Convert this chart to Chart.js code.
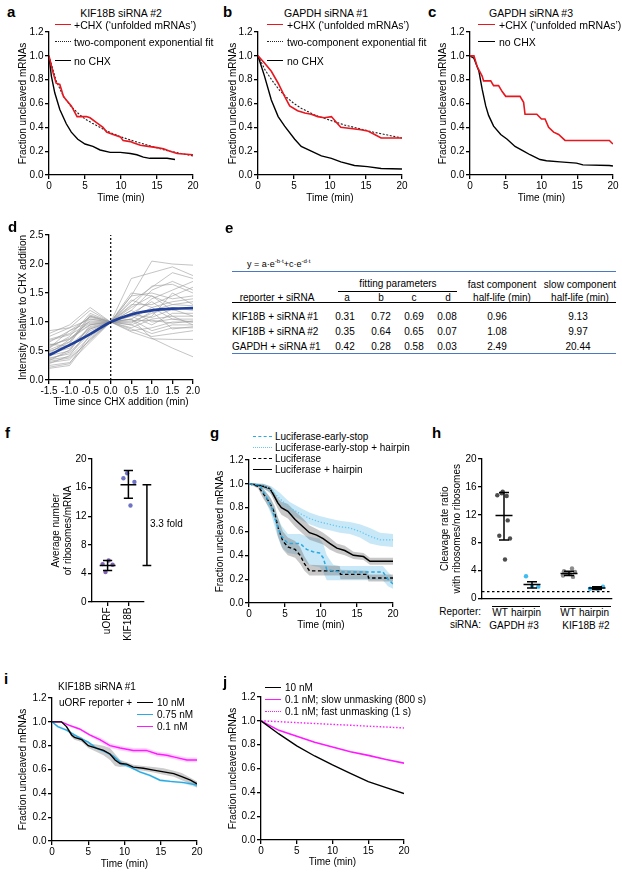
<!DOCTYPE html>
<html lang="en">
<head>
<meta charset="UTF-8" />
<title>Cleavage kinetics panels</title>
<script src="https://cdn.jsdelivr.net/npm/chart.js"></script>
<style>
  body { margin: 0; background: #fff; overflow: hidden; }
  #page { position: relative; width: 622px; height: 873px; font-family: "Liberation Sans", Arial, Helvetica, sans-serif; color: #000; }
  #page canvas { position: absolute; }
  .t { position: absolute; font-size: 10px; line-height: 12px; white-space: nowrap; }
  .t sup { font-size: 6px; vertical-align: 4px; line-height: 0; }
</style>
</head>
<body>
<div id="page"></div>
<script>
// ---- a: KIF18B siRNA #2
const aChxT = [0, 0.56, 1.0, 1.5, 2.0, 2.4, 3.1, 3.9, 5.2, 5.7, 6.6, 7.5, 8.0, 8.9, 9.9, 10.3, 11.3, 11.7, 12.7, 13.8, 15.0, 15.9, 16.8, 17.8, 20];
const aChxY = [1.0, 0.86, 0.77, 0.76, 0.66, 0.63, 0.58, 0.49, 0.49, 0.48, 0.44, 0.40, 0.36, 0.34, 0.32, 0.29, 0.28, 0.27, 0.25, 0.24, 0.23, 0.22, 0.20, 0.18, 0.17];
const aFitT = [0, 1, 2, 3, 4, 5, 6, 8, 10, 12, 14, 16, 18, 20];
const aFitY = [1.0, 0.79, 0.66, 0.58, 0.52, 0.47, 0.435, 0.37, 0.32, 0.28, 0.245, 0.21, 0.185, 0.16];
const aNoT = [0, 0.33, 0.8, 1.5, 2.4, 3.1, 4.0, 5.0, 6.1, 7.1, 8.5, 9.9, 11.3, 12.2, 13.1, 14.0, 16.4, 17.5];
const aNoY = [1.0, 0.83, 0.69, 0.55, 0.43, 0.36, 0.30, 0.26, 0.24, 0.21, 0.19, 0.19, 0.18, 0.17, 0.15, 0.14, 0.14, 0.13];

// ---- b: GAPDH siRNA #1
const bChxT = [0, 0.9, 1.85, 2.8, 3.7, 4.4, 5.5, 6.5, 7.4, 8.3, 9.2, 10.2, 10.9, 11.5, 12.9, 14.3, 15.2, 16.2, 17.1, 20];
const bChxY = [1.0, 0.94, 0.87, 0.77, 0.66, 0.58, 0.54, 0.52, 0.51, 0.49, 0.48, 0.49, 0.44, 0.40, 0.39, 0.38, 0.37, 0.34, 0.31, 0.31];
const bFitT = [0, 1, 2, 3, 4, 5, 6, 8, 10, 12, 14, 16, 18, 20];
const bFitY = [1.0, 0.88, 0.79, 0.71, 0.65, 0.60, 0.56, 0.50, 0.46, 0.42, 0.39, 0.36, 0.335, 0.31];
const bNoT = [0, 0.9, 1.85, 2.8, 3.7, 5.1, 6.0, 7.4, 8.8, 10.2, 11.5, 13.4, 15.2, 17.1, 20];
const bNoY = [1.0, 0.83, 0.63, 0.49, 0.41, 0.30, 0.24, 0.20, 0.16, 0.14, 0.11, 0.08, 0.07, 0.055, 0.05];

// ---- c: GAPDH siRNA #3
const cChxT = [0, 0.55, 1.0, 1.7, 1.9, 2.9, 3.3, 4.0, 4.5, 5.0, 7.0, 7.5, 7.7, 9.35, 10.0, 10.5, 11.0, 11.7, 12.4, 13.3, 19.5, 20];
const cChxY = [1.0, 1.0, 0.91, 0.83, 0.79, 0.79, 0.75, 0.75, 0.70, 0.66, 0.66, 0.61, 0.51, 0.51, 0.47, 0.47, 0.40, 0.36, 0.34, 0.29, 0.29, 0.26];
const cNoT = [0, 0.55, 1.25, 1.7, 2.2, 2.6, 3.3, 4.3, 5.2, 6.3, 7.5, 8.4, 9.8, 10.7, 12.6, 14.9, 15.8, 19.5, 20];
const cNoY = [1.0, 0.98, 0.87, 0.72, 0.58, 0.50, 0.41, 0.34, 0.30, 0.24, 0.20, 0.17, 0.13, 0.12, 0.11, 0.10, 0.085, 0.08, 0.075];

// ---- d: single-mRNA intensity traces around CHX addition
const dTimes = [-1.5, -1.0, -0.5, 0, 0.5, 1.0, 1.5, 2.0];
const dTraces = [
  [0.85, 0.90, 1.05, 1, 1.45, 2.05, 2.00, 1.98],
  [0.80, 0.95, 1.25, 1, 1.75, 1.85, 1.95, 1.80],
  [0.70, 0.80, 1.10, 1, 1.35, 1.60, 1.85, 1.75],
  [0.65, 0.85, 1.00, 1, 1.20, 1.55, 1.70, 1.55],
  [0.60, 0.70, 0.95, 1, 1.10, 1.40, 1.55, 1.70],
  [0.55, 0.75, 1.15, 1, 1.30, 1.30, 1.45, 1.60],
  [0.50, 0.60, 0.90, 1, 1.45, 1.50, 1.40, 1.45],
  [0.48, 0.65, 1.05, 1, 1.05, 1.25, 1.35, 1.40],
  [0.45, 0.55, 0.85, 1, 1.15, 1.20, 1.30, 1.35],
  [0.42, 0.50, 0.95, 1, 0.95, 1.10, 1.50, 1.30],
  [0.40, 0.62, 1.10, 1, 1.25, 1.45, 1.20, 1.25],
  [0.38, 0.45, 0.80, 1, 1.00, 1.15, 1.25, 1.20],
  [0.35, 0.40, 0.75, 1, 1.10, 0.95, 1.15, 1.15],
  [0.33, 0.52, 0.92, 1, 0.90, 1.05, 1.10, 1.10],
  [0.30, 0.35, 0.70, 1, 1.20, 1.00, 1.05, 1.05],
  [0.28, 0.42, 0.88, 1, 0.85, 0.90, 1.00, 1.00],
  [0.25, 0.30, 0.65, 1, 1.05, 0.85, 0.95, 0.95],
  [0.22, 0.28, 0.78, 1, 0.95, 0.80, 0.90, 0.90],
  [0.20, 0.25, 0.72, 1, 0.88, 0.75, 0.80, 0.85],
  [0.75, 0.90, 1.20, 1, 1.05, 0.72, 0.55, 0.40],
  [0.68, 0.78, 0.98, 1, 0.83, 0.71, 0.70, 0.70],
  [0.55, 0.85, 1.08, 1, 1.38, 1.25, 1.05, 1.00],
  [0.45, 0.70, 1.02, 1, 1.15, 1.35, 1.10, 0.95],
  [0.62, 0.58, 0.88, 1, 1.28, 1.62, 1.65, 1.50],
  [0.36, 0.48, 0.82, 1, 1.12, 1.08, 1.22, 1.10],
  [0.58, 0.72, 0.96, 1, 0.98, 1.18, 0.88, 0.92],
  [0.32, 0.38, 0.68, 1, 1.50, 1.45, 1.30, 1.28],
  [0.52, 0.66, 1.12, 1, 1.02, 1.03, 0.98, 1.02]
];
const dFitY = [0.43, 0.60, 0.79, 1.0, 1.13, 1.20, 1.23, 1.24];

// ---- e: fit table
const eRows = ['KIF18B + siRNA #1', 'KIF18B + siRNA #2', 'GAPDH + siRNA #1'];
const eA = ['0.31', '0.35', '0.42'];
const eB = ['0.72', '0.64', '0.28'];
const eC = ['0.69', '0.65', '0.58'];
const eD = ['0.08', '0.07', '0.03'];
const eFast = ['0.96', '1.08', '2.49'];
const eSlow = ['9.13', '9.97', '20.44'];

// ---- f: ribosomes per mRNA
const fCats = ['uORF', 'KIF18B'];
const fUorf = [5.8, 5.3, 5.2, 4.2];
const fKif = [18.0, 17.3, 16.8, 13.5];
const fMean = [5.1, 16.4];
const fLo = [4.4, 14.5];
const fHi = [5.8, 18.4];

// ---- g: luciferase reporters
const gHpT = [0, 1.25, 1.95, 2.9, 3.3, 4.0, 4.5, 5.4, 6.4, 7.5, 8.4, 9.4, 10.3, 11.2, 12.2, 13.3, 14.5, 15.9, 16.8, 20];
const gHpY = [1.0, 0.99, 0.98, 0.96, 0.92, 0.84, 0.80, 0.77, 0.70, 0.64, 0.59, 0.57, 0.54, 0.50, 0.46, 0.44, 0.40, 0.39, 0.35, 0.35];
const gHpHi = [1.0, 1.0, 1.0, 0.98, 0.95, 0.88, 0.85, 0.83, 0.77, 0.71, 0.65, 0.62, 0.59, 0.55, 0.50, 0.48, 0.43, 0.42, 0.38, 0.38];
const gHpLo = [1.0, 0.98, 0.96, 0.93, 0.88, 0.79, 0.74, 0.71, 0.64, 0.58, 0.53, 0.51, 0.49, 0.45, 0.42, 0.40, 0.37, 0.36, 0.32, 0.32];
const gLucT = [0, 1.25, 1.95, 2.9, 3.6, 4.0, 4.7, 5.4, 6.4, 7.1, 7.7, 8.4, 12.6, 12.7, 16.5, 16.6, 20];
const gLucY = [1.0, 0.98, 0.92, 0.84, 0.75, 0.64, 0.52, 0.47, 0.45, 0.40, 0.33, 0.27, 0.27, 0.24, 0.24, 0.21, 0.21];
const gLucHi = [1.0, 1.0, 0.96, 0.89, 0.81, 0.72, 0.60, 0.55, 0.52, 0.47, 0.39, 0.32, 0.31, 0.28, 0.27, 0.24, 0.24];
const gLucLo = [1.0, 0.96, 0.88, 0.79, 0.69, 0.56, 0.45, 0.40, 0.38, 0.33, 0.27, 0.23, 0.23, 0.20, 0.20, 0.18, 0.18];
const gEsT = [0, 1.5, 2.4, 3.1, 3.8, 4.5, 5.4, 7.1, 8.0, 8.9, 9.8, 10.3, 10.8, 11.7, 12.6, 18.6, 19.3, 20];
const gEsY = [1.0, 0.99, 0.89, 0.81, 0.67, 0.56, 0.50, 0.50, 0.45, 0.43, 0.42, 0.38, 0.28, 0.27, 0.26, 0.26, 0.20, 0.16];
const gEsHi = [1.0, 1.0, 0.93, 0.87, 0.75, 0.65, 0.58, 0.58, 0.56, 0.55, 0.54, 0.50, 0.40, 0.32, 0.31, 0.31, 0.26, 0.22];
const gEsLo = [1.0, 0.97, 0.84, 0.74, 0.59, 0.47, 0.42, 0.40, 0.33, 0.31, 0.30, 0.26, 0.19, 0.19, 0.19, 0.19, 0.14, 0.12];
const gEsHpT = [0, 1.95, 3.1, 4.2, 5.6, 7.1, 8.4, 9.8, 11.2, 12.6, 14, 15.4, 16.8, 18.2, 20];
const gEsHpY = [1.0, 0.99, 0.95, 0.88, 0.80, 0.75, 0.71, 0.68, 0.66, 0.64, 0.63, 0.60, 0.56, 0.53, 0.53];
const gEsHpHi = [1.0, 1.0, 0.98, 0.93, 0.85, 0.80, 0.76, 0.73, 0.71, 0.69, 0.68, 0.66, 0.63, 0.59, 0.58];
const gEsHpLo = [1.0, 0.97, 0.91, 0.83, 0.75, 0.70, 0.66, 0.63, 0.61, 0.59, 0.58, 0.55, 0.50, 0.48, 0.47];

// ---- h: cleavage rate ratios
const hReporters = ['WT', 'hairpin'];
const hGapdhWt = [14.8, 15.3, 15.1, 14.7, 11.2, 9.0, 8.6, 5.6];
const hGapdhHp = [3.2, 1.8, 1.7];
const hKifWt = [4.3, 3.9, 3.8, 3.6, 3.5, 3.3, 3.1];
const hKifHp = [1.4, 1.7, 1.4];
const hMean = [11.9, 2.0, 3.6, 1.5];
const hLo = [8.4, 1.5, 3.3, 1.3];
const hHi = [15.2, 2.4, 3.9, 1.7];

// ---- i: KIF18B siRNA #1, uORF reporter concentrations
const i10T = [0, 1.3, 2.0, 2.7, 3.1, 4.1, 5, 6.1, 7.1, 8, 8.7, 9.4, 10.3, 11.2, 12.6, 14, 15.4, 16.8, 17.9, 19.1, 20];
const i10Y = [1.0, 1.0, 0.96, 0.89, 0.87, 0.85, 0.80, 0.78, 0.76, 0.73, 0.68, 0.65, 0.645, 0.62, 0.61, 0.595, 0.58, 0.565, 0.54, 0.51, 0.48];
const i10Hi = [1.0, 1.0, 0.97, 0.91, 0.89, 0.87, 0.82, 0.81, 0.80, 0.78, 0.73, 0.68, 0.66, 0.64, 0.63, 0.62, 0.61, 0.59, 0.57, 0.53, 0.50];
const i10Lo = [1.0, 1.0, 0.95, 0.87, 0.85, 0.83, 0.78, 0.75, 0.72, 0.68, 0.63, 0.62, 0.63, 0.60, 0.59, 0.575, 0.555, 0.54, 0.51, 0.48, 0.45];
const i075T = [0, 0.8, 2, 3.1, 4, 5, 6.1, 7.3, 8.5, 9.6, 10.8, 12.1, 13.5, 14.9, 16.3, 18.2, 20];
const i075Y = [1.0, 0.96, 0.93, 0.89, 0.86, 0.83, 0.78, 0.75, 0.71, 0.65, 0.62, 0.58, 0.55, 0.51, 0.50, 0.49, 0.47];
const i075Hi = [1.0, 0.97, 0.94, 0.90, 0.87, 0.84, 0.79, 0.76, 0.72, 0.67, 0.63, 0.59, 0.56, 0.52, 0.51, 0.50, 0.49];
const i075Lo = [1.0, 0.95, 0.92, 0.88, 0.85, 0.82, 0.77, 0.74, 0.70, 0.63, 0.61, 0.57, 0.54, 0.50, 0.49, 0.48, 0.45];
const i01T = [0, 1.3, 2.4, 3.8, 5.2, 6.6, 8, 9.4, 11.2, 13, 14.5, 15.8, 17.2, 18.6, 20];
const i01Y = [1.0, 1.0, 0.97, 0.94, 0.89, 0.85, 0.80, 0.78, 0.76, 0.76, 0.73, 0.72, 0.70, 0.68, 0.68];
const i01Hi = [1.0, 1.0, 0.98, 0.95, 0.90, 0.87, 0.82, 0.80, 0.78, 0.78, 0.75, 0.74, 0.72, 0.70, 0.70];
const i01Lo = [1.0, 1.0, 0.96, 0.93, 0.88, 0.83, 0.78, 0.76, 0.74, 0.74, 0.71, 0.70, 0.68, 0.66, 0.66];

// ---- j: model curves
const jT = [0, 2.5, 5, 7.5, 10, 12.5, 15, 17.5, 20];
const j10 = [1.0, 0.89, 0.79, 0.705, 0.63, 0.56, 0.49, 0.44, 0.39];
const jSlow = [1.0, 0.92, 0.87, 0.82, 0.78, 0.74, 0.71, 0.675, 0.645];
const jFast = [1.0, 0.993, 0.985, 0.978, 0.97, 0.963, 0.955, 0.948, 0.94];

// ================= drawing =================
const page = document.getElementById('page');
const FONT = '"Liberation Sans", Arial, Helvetica, sans-serif';
Chart.defaults.font.family = FONT;
Chart.defaults.font.size = 10;
Chart.defaults.color = '#000';
Chart.defaults.animation = false;
Chart.defaults.plugins.legend.display = false;
Chart.defaults.plugins.tooltip.enabled = false;

const RED = '#e8161e', BLUE = '#2aaae2', LBLUE = '#66c9f0', MAG = '#ff19ff', NAVY = '#1f3f9b';
const fmt1 = v => v.toFixed(1);

const xy = (ts, ys) => ts.map((t, i) => ({x: t, y: ys[i]}));
function line(ts, ys, color, width, dash) {
  return {data: xy(ts, ys), borderColor: color, borderWidth: width, borderDash: dash || [], pointRadius: 0, fill: false, tension: 0};
}
function band(ts, hi, lo, color) {
  return [
    {data: xy(ts, hi), borderWidth: 0, borderColor: 'transparent', pointRadius: 0, fill: '+1', backgroundColor: color},
    {data: xy(ts, lo), borderWidth: 0, borderColor: 'transparent', pointRadius: 0, fill: false}
  ];
}
function dots(xs, ys, color) {
  return {data: xy(xs, ys), showLine: false, pointRadius: 2.2, pointBackgroundColor: color, pointBorderWidth: 0};
}
// mean line + error bar with caps, segments split by null points
function errBars(centers, mean, lo, hi, mw, cw) {
  const d = [];
  centers.forEach((c, k) => {
    d.push({x: c - mw, y: mean[k]}, {x: c + mw, y: mean[k]}, {x: c, y: null},
           {x: c, y: lo[k]}, {x: c, y: hi[k]}, {x: c, y: null},
           {x: c - cw, y: lo[k]}, {x: c + cw, y: lo[k]}, {x: c, y: null},
           {x: c - cw, y: hi[k]}, {x: c + cw, y: hi[k]}, {x: c, y: null});
  });
  return {data: d, borderColor: '#000', borderWidth: 1.5, pointRadius: 0, spanGaps: false};
}

function axis(o) {
  const show = o.ticks !== false;
  return {
    type: 'linear', min: o.min, max: o.max,
    border: {display: true, color: '#000', width: 1.3},
    grid: {display: show, drawOnChartArea: false, color: '#000', lineWidth: 1.3, tickLength: 4},
    ticks: {display: show, stepSize: o.step, padding: 1.5, autoSkip: false,
            maxRotation: o.rot || 0, minRotation: o.rot || 0, callback: o.fmt || (v => v)},
    title: {display: !!o.title, text: o.title || '', padding: 0, font: {size: 10}},
    afterBuildTicks: o.at ? (s => { s.ticks = o.at.map(v => ({value: v})); }) : undefined,
    afterFit: s => { if (s.isHorizontal()) s.height = o.size; else s.width = o.size; }
  };
}

// box: plot area in page pixels + fixed axis band sizes
function chart(box, datasets, x, y) {
  const c = document.createElement('canvas');
  const w = box.yw + box.r - box.l + box.pr, h = box.pt + box.b - box.t + box.xh;
  c.width = w; c.height = h;
  Object.assign(c.style, {left: (box.l - box.yw) + 'px', top: (box.t - box.pt) + 'px', width: w + 'px', height: h + 'px'});
  page.appendChild(c);
  x.size = box.xh; y.size = box.yw;
  return new Chart(c, {
    type: 'line',
    data: {datasets},
    options: {
      responsive: false, maintainAspectRatio: false, devicePixelRatio: 1,
      layout: {padding: {top: box.pt, right: box.pr, left: 0, bottom: 0}},
      scales: {x: axis(x), y: axis(y)}
    }
  });
}

function text(x, y, s, o = {}) {
  const el = document.createElement('div');
  el.className = 't';
  el.innerHTML = s;
  el.style.left = x + 'px';
  el.style.top = y + 'px';
  const ax = o.align === 'c' ? '-50%' : o.align === 'r' ? '-100%' : '0';
  el.style.transform = `translate(${ax}, -50%)`;
  if (o.size) el.style.fontSize = o.size + 'px';
  if (o.bold) el.style.fontWeight = 'bold';
  page.appendChild(el);
}
function key(x1, x2, y, color, style, w = 1.5) {
  const el = document.createElement('div');
  el.style.cssText = `position:absolute;left:${x1}px;top:${y - w / 2}px;width:${x2 - x1}px;height:0;border-top:${w}px ${style} ${color};`;
  page.appendChild(el);
}

const timeX = {min: 0, max: 20, step: 5, title: 'Time (min)'};
const fracY = {min: 0, max: 1.2, step: 0.2, fmt: fmt1, title: 'Fraction uncleaved mRNAs'};

// a
chart({l: 49, t: 32, r: 193, b: 175, yw: 32, xh: 29, pt: 8, pr: 8}, [
  line(aChxT, aChxY, RED, 1.6),
  line(aFitT, aFitY, '#222', 1.1, [2, 1.6]),
  line(aNoT, aNoY, '#000', 1.4)
], {...timeX}, {...fracY});
// b
chart({l: 258, t: 32, r: 402, b: 175, yw: 31, xh: 29, pt: 8, pr: 8}, [
  line(bChxT, bChxY, RED, 1.6),
  line(bFitT, bFitY, '#222', 1.1, [2, 1.6]),
  line(bNoT, bNoY, '#000', 1.4)
], {...timeX}, {...fracY});
// c
chart({l: 470, t: 32, r: 613, b: 175, yw: 33, xh: 29, pt: 8, pr: 7}, [
  line(cChxT, cChxY, RED, 1.6),
  line(cNoT, cNoY, '#000', 1.4)
], {...timeX}, {...fracY});
// d
chart({l: 49, t: 235, r: 193, b: 380, yw: 32, xh: 28, pt: 8, pr: 10}, [
  line([0, 0], [0, 2.5], '#000', 1.2, [2, 2]),
  {...line(dTimes, dFitY, NAVY, 2.6), cubicInterpolationMode: 'monotone'},
  ...dTraces.map(tr => line(dTimes, tr, 'rgba(155,155,155,0.85)', 0.7))
], {min: -1.5, max: 2, step: 0.5, fmt: fmt1, title: 'Time since CHX addition (min)'},
   {min: 0, max: 2.5, step: 0.5, fmt: fmt1, title: 'Intensity relative to CHX addition'});

// f
const fC = [0.75, 1.75];
const fJit = [[0.05, -0.24, 0.24, -0.1], [-0.06, -0.24, 0.29, 0.1]];
const fBx = 2.64, fCap = 0.21;
chart({l: 92, t: 459, r: 144, b: 602, yw: 42, xh: 44, pt: 8, pr: 16}, [
  errBars(fC, fMean, fLo, fHi, 0.38, 0.22),
  {data: [{x: fBx, y: fMean[0]}, {x: fBx, y: fMean[1]}, {x: fBx, y: null},
          {x: fBx - fCap, y: fMean[0]}, {x: fBx + fCap, y: fMean[0]}, {x: fBx, y: null},
          {x: fBx - fCap, y: fMean[1]}, {x: fBx + fCap, y: fMean[1]}],
   borderColor: '#000', borderWidth: 1.5, pointRadius: 0, spanGaps: false, clip: false},
  dots(fJit[0].map(j => fC[0] + j), fUorf, '#8063b3'),
  dots(fJit[1].map(j => fC[1] + j), fKif, '#6f73c6')
], {min: 0, max: 2.5, at: fC, rot: 90, fmt: (v, k) => fCats[k]},
   {min: 0, max: 20, step: 4, title: ['Average number', 'of ribosomes/mRNA']});

// g
chart({l: 249, t: 460, r: 393, b: 603, yw: 35, xh: 28, pt: 8, pr: 8}, [
  line(gEsT, gEsY, BLUE, 1.5, [3.5, 2.5]),
  line(gEsHpT, gEsHpY, LBLUE, 1.3, [1.3, 1.8]),
  line(gLucT, gLucY, '#000', 1.4, [3.5, 2.5]),
  line(gHpT, gHpY, '#000', 1.5),
  ...band(gHpT, gHpHi, gHpLo, 'rgba(110,110,110,0.38)'),
  ...band(gLucT, gLucHi, gLucLo, 'rgba(110,110,110,0.38)'),
  ...band(gEsT, gEsHi, gEsLo, 'rgba(110,195,235,0.38)'),
  ...band(gEsHpT, gEsHpHi, gEsHpLo, 'rgba(110,195,235,0.38)')
], {...timeX}, {...fracY});

// h
const hC = [2.2, 5.0, 8.7, 11.5];
const hJit = [[-0.67, -0.13, -0.23, 0.27, 0.37, -0.47, 0.6, 0.1], [-0.6, 0, 0.63], [0.3, -0.5, 0.6, -0.2, 0.1, -0.6, 0.4], [-0.7, 0.6, 0.05]];
chart({l: 482, t: 459, r: 612, b: 602, yw: 43, xh: 4, pt: 8, pr: 6}, [
  errBars(hC, hMean, hLo, hHi, 0.85, 0.5),
  dots(hJit[0].map(j => hC[0] + j), hGapdhWt, '#4d4d4d'),
  dots(hJit[1].map(j => hC[1] + j), hGapdhHp, '#3fbdf0'),
  dots(hJit[2].map(j => hC[2] + j), hKifWt, '#8c8c8c'),
  dots(hJit[3].map(j => hC[3] + j), hKifHp, '#3fbdf0'),
  line([0, 13], [1, 1], '#000', 1.2, [2.5, 2.5])
], {min: 0, max: 13, ticks: false},
   {min: 0, max: 20, step: 4, title: ['Cleavage rate ratio', 'with ribosomes/no ribosomes']});

// i
chart({l: 52, t: 698, r: 197, b: 841, yw: 35, xh: 29, pt: 8, pr: 8}, [
  line(i10T, i10Y, '#000', 1.4),
  line(i075T, i075Y, BLUE, 1.4),
  line(i01T, i01Y, MAG, 1.4),
  ...band(i10T, i10Hi, i10Lo, 'rgba(110,110,110,0.35)'),
  ...band(i075T, i075Hi, i075Lo, 'rgba(110,195,235,0.35)'),
  ...band(i01T, i01Hi, i01Lo, 'rgba(255,120,255,0.3)')
], {...timeX}, {...fracY});

// j
chart({l: 261, t: 697, r: 404, b: 840, yw: 34, xh: 28, pt: 8, pr: 8}, [
  line(jT, j10, '#000', 1.4),
  line(jT, jSlow, MAG, 1.6),
  line(jT, jFast, MAG, 1.4, [1.5, 1.8])
], {...timeX}, {...fracY});

// ---- panel letters
[['a', 7, 12], ['b', 223, 12], ['c', 428, 12], ['d', 8, 227], ['e', 225, 228], ['f', 5, 433],
 ['g', 210, 433], ['h', 432, 433], ['i', 4, 679], ['j', 223, 682]].forEach(([s, x, y]) => text(x, y, s, {bold: true, size: 15}));

// ---- titles and legends a-c
text(121, 13, 'KIF18B siRNA #2', {align: 'c', size: 10.5});
text(326, 13, 'GAPDH siRNA #1', {align: 'c', size: 10.5});
text(531, 13, 'GAPDH siRNA #3', {align: 'c', size: 10.5});
[[55, 71, 74], [267, 283, 287]].forEach(([x1, x2, tx]) => {
  key(x1, x2, 25, RED, 'solid'); text(tx, 25, '+CHX (‘unfolded mRNAs’)', {size: 10.5});
  key(x1, x2, 42, '#222', 'dotted', 1.2); text(tx, 42, 'two-component exponential fit', {size: 10.5});
  key(x1, x2, 61, '#000', 'solid'); text(tx, 61, 'no CHX', {size: 10.5});
});
key(478, 495, 25, RED, 'solid'); text(499, 25, '+CHX (‘unfolded mRNAs’)', {size: 10.5});
key(478, 495, 42, '#000', 'solid'); text(499, 42, 'no CHX', {size: 10.5});

// ---- table e
text(247, 264, 'y = a·e<sup>-b·t</sup>+c·e<sup>-d·t</sup>', {size: 9});
key(232, 616, 272, '#4a78c2', 'solid', 1.6);
text(398, 284, 'fitting parameters', {align: 'c'});
key(338, 457, 291, '#000', 'solid', 1);
text(502, 285, 'fast component', {align: 'c'});
text(580, 285, 'slow component', {align: 'c'});
text(277, 298, 'reporter + siRNA', {align: 'c'});
[['a', 347], ['b', 381], ['c', 414], ['d', 448]].forEach(([s, x]) => text(x, 298, s, {align: 'c'}));
text(502, 298, 'half-life (min)', {align: 'c'});
text(580, 298, 'half-life (min)', {align: 'c'});
key(232, 616, 303, '#000', 'solid', 1.3);
eRows.forEach((r, k) => {
  const y = 317 + k * 15;
  text(232, y, r);
  text(345, y, eA[k], {align: 'c'});
  text(381, y, eB[k], {align: 'c'});
  text(414, y, eC[k], {align: 'c'});
  text(447, y, eD[k], {align: 'c'});
  text(497, y, eFast[k], {align: 'c'});
  text(578, y, eSlow[k], {align: 'c'});
});
key(232, 616, 354, '#4a78c2', 'solid', 1.6);

// ---- f annotation
text(150, 524, '3.3 fold');

// ---- g legend
key(253, 272, 437, BLUE, 'dashed'); text(275, 437, 'Luciferase-early-stop');
key(253, 272, 448, LBLUE, 'dotted', 1.3); text(275, 448, 'Luciferase-early-stop + hairpin');
key(253, 272, 459, '#000', 'dashed'); text(275, 459, 'Luciferase');
key(253, 272, 470, '#000', 'solid'); text(275, 470, 'Luciferase + hairpin');

// ---- h category labels
text(481, 612, 'Reporter:', {align: 'r'});
text(481, 625, 'siRNA:', {align: 'r'});
key(492, 540, 606.5, '#000', 'solid', 1);
key(560, 611, 606.5, '#000', 'solid', 1);
[500, 526, 568, 594].forEach((x, k) => text(x, 613, hReporters[k % 2], {align: 'c'}));
text(514, 626, 'GAPDH #3', {align: 'c'});
text(586, 626, 'KIF18B #2', {align: 'c'});

// ---- i legend
text(58, 687, 'KIF18B siRNA #1');
text(59, 703, 'uORF reporter +');
key(137, 153, 703, '#000', 'solid'); text(157, 703, '10 nM');
key(137, 153, 715, BLUE, 'solid'); text(157, 715, '0.75 nM');
key(137, 153, 727, MAG, 'solid'); text(157, 727, '0.1 nM');

// ---- j legend
key(265, 281, 688, '#000', 'solid'); text(285, 688, '10 nM');
key(265, 281, 700, MAG, 'solid'); text(285, 700, '0.1 nM; slow unmasking (800 s)');
key(265, 281, 712, MAG, 'dotted'); text(285, 712, '0.1 nM; fast unmasking (1 s)');
</script>
</body>
</html>
